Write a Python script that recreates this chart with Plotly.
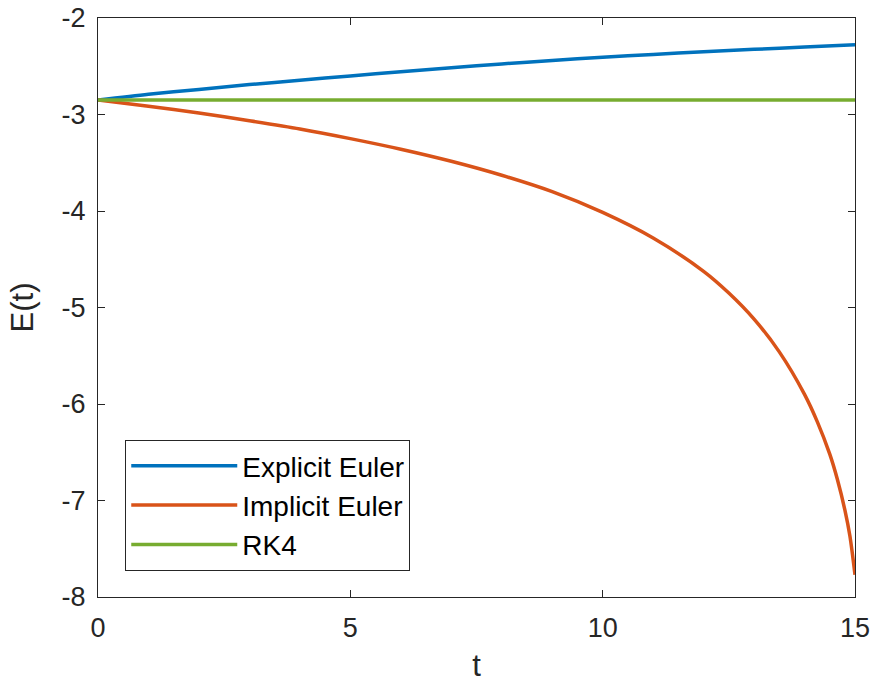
import plotly.graph_objects as go

# Data
t_explicit = [0, 1, 2, 3, 4, 5, 6, 7, 8, 9, 10, 11, 12, 13, 14, 15]
E_explicit = [-2.85, -2.79, -2.74, -2.69, -2.645, -2.60, -2.557, -2.515, -2.476,
              -2.44, -2.407, -2.377, -2.35, -2.325, -2.30, -2.278]

t_implicit = [0, 1, 2, 3, 4, 5, 6, 7, 8, 9, 10, 11, 12, 12.5, 13, 13.5, 14,
              14.25, 14.5, 14.65, 14.8, 14.9, 15]
E_implicit = [-2.85, -2.915, -2.985, -3.065, -3.15, -3.25, -3.36, -3.485, -3.63,
              -3.80, -4.015, -4.28, -4.625, -4.85, -5.12, -5.46, -5.90, -6.18,
              -6.52, -6.78, -7.10, -7.37, -7.77]

t_rk4 = [0, 5, 10, 15]
E_rk4 = [-2.85, -2.85, -2.85, -2.85]

series_names = ["Explicit Euler", "Implicit Euler", "RK4"]
colors = ["#0072BD", "#D95319", "#77AC30"]

x_ticks = [0, 5, 10, 15]
y_ticks = [-8, -7, -6, -5, -4, -3, -2]

FONT = "Liberation Sans, Arial, sans-serif"

fig = go.Figure()
for name, tx, ey, c in zip(series_names,
                           [t_explicit, t_implicit, t_rk4],
                           [E_explicit, E_implicit, E_rk4], colors):
    fig.add_trace(go.Scatter(x=tx, y=ey, mode="lines", name=name,
                             line=dict(color=c, width=3.5, shape="spline", smoothing=0.8)))

axis_common = dict(showline=True, linecolor="#262626", linewidth=1, mirror="ticks",
                   ticks="inside", ticklen=7, tickcolor="#262626", tickwidth=1,
                   showgrid=False, zeroline=False, automargin=False,
                   tickfont=dict(family=FONT, size=27, color="#262626"))

fig.update_layout(
    width=875, height=684,
    margin=dict(l=98, r=20, t=18, b=87),
    paper_bgcolor="white", plot_bgcolor="white",
    font=dict(family=FONT, color="#262626"),
    xaxis=dict(range=[0, 15], tickvals=x_ticks, ticktext=[str(v) for v in x_ticks],
               ticklabelstandoff=7,
               title=dict(text="t", font=dict(size=31), standoff=11), **axis_common),
    yaxis=dict(range=[-8, -2], tickvals=y_ticks, ticktext=[str(v) for v in y_ticks],
               ticklabelstandoff=6,
               title=dict(text="E(t)", font=dict(size=31), standoff=18), **axis_common),
    legend=dict(x=0.036, y=0.045, xanchor="left", yanchor="bottom",
                bgcolor="white", bordercolor="#262626", borderwidth=1,
                font=dict(family=FONT, size=28, color="#000000"),
                tracegroupgap=0, itemwidth=106),
    showlegend=True,
)

fig.write_html("out.html")
